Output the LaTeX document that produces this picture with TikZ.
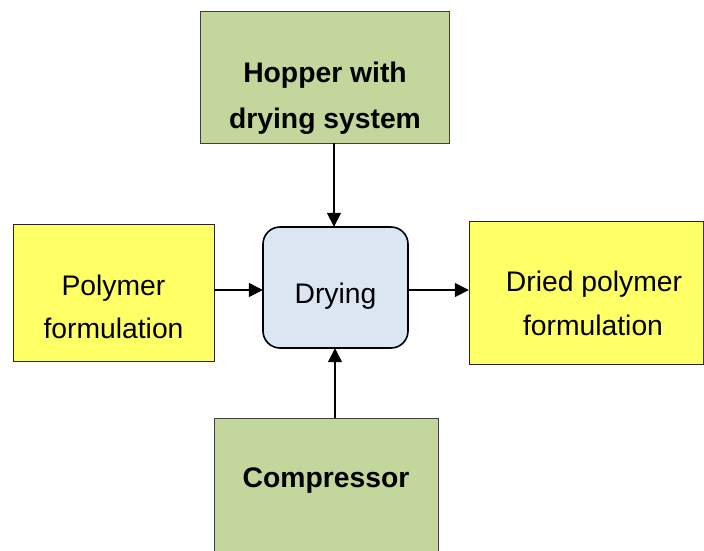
\documentclass[tikz,border=0pt]{standalone}
\usepackage{fontspec}
\setmainfont{Liberation Sans}
\usetikzlibrary{arrows.meta}
\definecolor{boxgreen}{HTML}{C3D69B}
\definecolor{boxyellow}{HTML}{FFFF66}
\definecolor{boxblue}{HTML}{DCE6F2}
\tikzset{
  greenbox/.style={draw=black!75, line width=1pt, fill=boxgreen},
  yellowbox/.style={draw=black!85, line width=1pt, fill=boxyellow},
  procbox/.style={draw=black, line width=1.6pt, fill=boxblue, rounded corners=17pt},
  txt/.style={inner sep=0pt, anchor=base, font=\fontsize{28.3}{34}\selectfont},
  btxt/.style={txt, font=\fontsize{28.3}{34}\selectfont\bfseries},
  flow/.style={line width=1.6pt, -{Triangle[length=14pt,width=14pt]}}
}
\begin{document}
\begin{tikzpicture}[x=1pt,y=-1pt]
\useasboundingbox (0,0) rectangle (704,550);
\clip (0,0) rectangle (704,550);
% boxes
\path[greenbox] (200,11) rectangle (449,143);
\node[inner sep=0pt, minimum width=249pt, minimum height=132pt] (hop) at (324.5,77) {};
\path[yellowbox] (13,224) rectangle (214,361);
\node[inner sep=0pt, minimum width=201pt, minimum height=137pt] (pol) at (113.5,292.5) {};
\path[procbox] (263,227) rectangle (408,348);
\node[inner sep=0pt, minimum width=145pt, minimum height=121pt] (dry) at (335.5,287.5) {};
\path[yellowbox] (469,221) rectangle (703.5,364);
\node[inner sep=0pt, minimum width=234.5pt, minimum height=143pt] (drd) at (586.25,292.5) {};
\path[greenbox] (214,418) rectangle (438,570);
\node[inner sep=0pt, minimum width=224pt, minimum height=152pt] (cmp) at (326,494) {};
% texts
\node[btxt] (hop1) at (325,82) {Hopper with};
\node[btxt] (hop2) at (325,128.3) {drying system};
\node[txt] (pol1) at (113.5,295) {Polymer};
\node[txt] (pol2) at (113.5,338) {formulation};
\node[txt] (dry1) at (335.5,303) {Drying};
\node[txt] (drd1) at (594,291.7) {Dried polymer};
\node[txt] (drd2) at (593,335) {formulation};
\node[btxt] (cmp1) at (326,487.5) {Compressor};
% connectors
\draw[flow] (hop.south -| 334,0) -- (dry.north -| 334,0);
\draw[flow] (pol.east |- 0,290) -- (dry.west |- 0,290);
\draw[flow] (dry.east |- 0,290) -- (drd.west |- 0,290);
\draw[flow] (cmp.north -| 335,0) -- (dry.south -| 335,0);
\end{tikzpicture}
\end{document}
